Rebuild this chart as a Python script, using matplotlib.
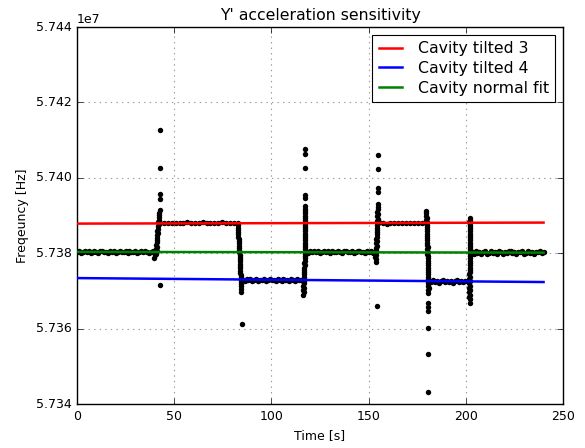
import numpy as np
import matplotlib
matplotlib.use("Agg")
import matplotlib.pyplot as plt

# Frequencies are stored as kHz offsets from this reference frequency
F0_HZ = 57_380_000.0

# Fitted cavity frequencies at the start and end of the run
FIT_T = [0.0, 240.0]
FIT_TILTED_3 = [7.85, 8.12]
FIT_TILTED_4 = [-6.60, -7.65]
FIT_NORMAL = [0.35, 0.15]

# Steady segments: (start time, end time, kHz samples)
GREEN_A = [0.3, 0.6, 0.1, 0.4, 0.7, 0.2, 0.5, 0.0, 0.4, 0.6,
           0.3, 0.1, 0.5, 0.7, 0.2, 0.4, 0.0, 0.6, 0.3, 0.5,
           0.1, 0.4, 0.7, 0.2, 0.3, 0.6, 0.0, 0.5, 0.2, 0.4,
           0.6, 0.1, 0.3, 0.7, 0.2, 0.5, 0.4, 0.0, 0.3, 0.6,
           0.2]
RED_B = [8.0, 7.9, 8.0, 7.9, 8.1, 7.9, 8.0, 8.3, 8.0, 7.9,
         8.0, 8.2, 7.9, 8.0, 8.0, 7.9, 8.3, 8.0, 7.9, 8.1, 8.0]
BLUE_C = [-7.0, -7.3, -6.9, -7.2, -6.8, -7.4, -7.1, -6.9, -7.3, -7.0,
          -7.2, -6.8, -7.4, -7.1, -6.9, -7.2, -7.0, -7.4, -6.8, -7.1,
          -7.3, -6.9, -7.2, -7.0, -7.4, -6.8, -7.1, -7.3, -6.9, -7.2,
          -7.0, -7.3]
GREEN_D = [0.4, 0.1, 0.6, 0.3, 0.7, 0.2, 0.5, 0.0, 0.4, 0.6,
           0.3, 0.7, 0.1, 0.5, 0.4, 0.2, 0.6, 0.3, 0.0, 0.5,
           0.7, 0.2, 0.4, 0.6, 0.1, 0.3, 0.5, 0.7, 0.2, 0.4,
           0.0, 0.6, 0.3, 0.5, 0.1, 0.4]
RED_E = [8.2, 8.0, 7.8, 8.1, 7.9, 8.0, 8.0, 7.9, 8.1, 8.0,
         7.9, 8.0, 8.1]
BLUE_F = [-7.4, -7.7, -7.2, -7.6, -7.3, -7.8, -7.5, -7.2, -7.7, -7.4,
          -7.6, -7.3, -7.8, -7.5, -7.2, -7.6, -7.4, -7.7, -7.3, -7.5,
          -7.6]
GREEN_G = [0.2, -0.2, 0.5, 0.0, 0.4, -0.1, 0.3, 0.6, -0.2, 0.1,
           0.5, 0.0, 0.3, -0.1, 0.6, 0.2, -0.2, 0.4, 0.1, 0.5,
           0.7, 0.0, 0.3, -0.1, 0.4, 0.2, 0.6, -0.2, 0.1, 0.5,
           0.0, 0.3, -0.1, 0.4, 0.2, 0.6, 0.0, 0.3]

SEGMENTS = [
    (0.0, 40.0, GREEN_A),
    (42.8, 82.6, RED_B),
    (85.2, 116.2, BLUE_C),
    (118.0, 153.4, GREEN_D),
    (155.2, 179.4, RED_E),
    (181.2, 201.4, BLUE_F),
    (203.0, 240.0, GREEN_G),
]

# Switching events: (time [s], kHz) samples
SWITCH_1 = [(39.8, -1.2), (40.2, -0.6), (40.6, -0.1), (40.9, 0.5), (40.5, 1.1),
            (41.0, 1.7), (40.8, 2.3), (41.2, 2.9), (41.0, 3.5), (41.4, 4.1),
            (41.2, 4.7), (41.6, 5.3), (41.4, 5.9), (41.8, 6.5), (41.6, 7.1),
            (42.0, 7.7), (41.8, 8.3), (42.2, 8.9), (42.0, 9.5), (42.4, 10.1),
            (42.2, 10.7), (42.6, 11.4), (42.7, 14.4), (42.7, 15.7),
            (42.7, 22.6), (42.7, 32.7), (42.8, -8.4)]
SWITCH_2 = [(82.6, 7.4), (82.7, 6.8), (82.8, 6.2), (82.9, 5.6), (83.0, 5.0),
            (83.0, 4.4), (83.1, 3.8), (83.2, 3.2), (83.2, 2.6), (83.3, 2.0),
            (83.4, 1.4), (83.4, 0.8), (83.5, 0.2), (83.6, -0.4), (83.6, -1.0),
            (83.7, -1.6), (83.8, -2.2), (83.8, -2.8), (83.9, -3.4), (84.0, -4.0),
            (84.0, -4.6), (84.1, -5.2), (84.2, -5.8), (84.2, -6.4), (84.3, -7.0),
            (84.4, -7.6), (84.4, -8.2), (84.5, -8.8), (84.6, -9.6), (84.5, -10.4),
            (84.9, -18.8)]
SWITCH_3 = [(116.4, -11.0), (116.6, -10.4), (116.4, -9.8), (116.7, -9.2),
            (116.5, -8.6), (116.8, -8.0), (116.6, -7.4), (116.9, -6.8),
            (116.7, -6.2), (116.9, -5.6), (116.8, -5.0), (117.0, -4.4),
            (116.9, -3.8), (117.1, -3.2), (117.0, -2.6), (117.2, -2.0),
            (117.1, -1.4), (117.2, -0.8), (117.1, -0.2), (117.3, 0.4),
            (117.2, 1.0), (117.3, 1.6), (117.2, 2.2), (117.3, 2.8),
            (117.2, 3.4), (117.3, 4.0), (117.2, 4.6), (117.3, 5.2),
            (117.2, 5.8), (117.3, 6.4), (117.2, 7.0), (117.3, 7.6),
            (117.2, 8.2), (117.3, 8.8), (117.2, 9.4), (117.3, 10.0),
            (117.2, 10.6), (117.3, 11.2), (117.2, 11.8), (117.3, 12.5),
            (117.2, 14.7), (117.2, 15.5), (117.3, 22.6), (117.3, 26.3),
            (117.3, 27.6)]
SWITCH_4 = [(153.6, -2.3), (153.8, -1.6), (153.5, -1.0), (153.9, -0.4),
            (153.7, 0.2), (154.0, 0.8), (153.8, 1.4), (154.1, 2.0),
            (153.9, 2.6), (154.2, 3.2), (154.0, 3.8), (154.3, 4.4),
            (154.1, 5.0), (154.4, 5.6), (154.2, 6.2), (154.5, 6.8),
            (154.3, 7.4), (154.6, 8.0), (154.4, 8.6), (154.6, 9.2),
            (154.5, 9.8), (154.7, 10.4), (154.5, 11.0), (154.7, 11.6),
            (154.6, 12.3), (154.7, 13.1), (154.7, 16.3), (154.7, 17.3),
            (154.6, 22.4), (154.6, 26.1), (154.4, -13.9)]
SWITCH_5 = [(179.6, 11.2), (179.7, 10.6), (179.6, 10.0), (179.8, 9.4),
            (179.7, 8.8), (179.8, 8.2), (179.9, 7.6), (179.8, 7.0),
            (180.0, 6.4), (179.9, 5.8), (180.1, 5.2), (180.0, 4.6),
            (180.2, 4.0), (180.1, 3.4), (180.2, 2.8), (180.1, 2.2),
            (180.3, 1.6), (180.2, 1.0), (180.3, 0.4), (180.2, -0.2),
            (180.4, -0.8), (180.3, -1.4), (180.4, -2.0), (180.3, -2.6),
            (180.5, -3.2), (180.4, -3.8), (180.5, -4.4), (180.4, -5.0),
            (180.6, -5.6), (180.5, -6.2), (180.7, -6.8), (180.5, -7.4),
            (180.8, -8.0), (180.6, -8.6), (180.9, -9.2), (180.7, -9.8),
            (180.8, -10.5), (180.5, -13.2), (180.5, -14.2), (180.5, -15.3),
            (180.5, -19.8), (180.5, -26.7), (180.5, -36.8)]
SWITCH_6 = [(202.0, 9.4), (202.1, 8.8), (201.9, 8.2), (202.1, 7.6),
            (202.0, 7.0), (202.2, 6.4), (202.0, 5.8), (202.2, 5.2),
            (202.1, 4.6), (202.3, 4.0), (202.1, 3.4), (202.3, 2.8),
            (202.2, 2.2), (202.4, 1.6), (202.2, 1.0), (202.4, 0.4),
            (202.3, -0.2), (202.1, -0.8), (202.3, -1.4), (202.1, -2.0),
            (202.3, -2.6), (202.0, -3.2), (202.2, -3.8), (202.0, -4.4),
            (202.2, -5.0), (201.9, -5.6), (202.1, -6.2), (201.9, -6.8),
            (202.1, -7.4), (201.8, -8.0), (202.0, -8.6), (201.9, -9.2),
            (202.1, -9.8), (201.9, -10.4), (202.1, -11.0), (201.9, -11.6),
            (202.0, -12.2), (202.0, -13.2)]
SWITCHES = [SWITCH_1, SWITCH_2, SWITCH_3, SWITCH_4, SWITCH_5, SWITCH_6]

X_TICKS = [0, 50, 100, 150, 200, 250]
Y_TICKS = [5.734e7, 5.736e7, 5.738e7, 5.740e7, 5.742e7, 5.744e7]


def to_hz(khz):
    return F0_HZ + 1e3 * np.asarray(khz, dtype=float)


# Assemble the measured time series
times, freqs = [], []
for t0, t1, vals in SEGMENTS:
    times.append(np.linspace(t0, t1, len(vals)))
    freqs.append(to_hz(vals))
for sw in SWITCHES:
    arr = np.array(sw)
    times.append(arr[:, 0])
    freqs.append(to_hz(arr[:, 1]))
time_s = np.concatenate(times)
freq_hz = np.concatenate(freqs)

plt.style.use("classic")
plt.rcParams.update({
    "figure.facecolor": "white",
    "savefig.facecolor": "white",
    "font.family": "DejaVu Sans",
})

fig = plt.figure(figsize=(5.85, 4.48), dpi=100)
ax = fig.add_axes([77 / 585, 1 - 404 / 448, (563 - 77) / 585, (404 - 27) / 448])

ax.plot(time_s, freq_hz, "o", color="black", markersize=3.9,
        markeredgewidth=0, zorder=2)

ax.plot(FIT_T, to_hz(FIT_TILTED_3), color="red", lw=1.8, label="Cavity tilted 3", zorder=3)
ax.plot(FIT_T, to_hz(FIT_TILTED_4), color="blue", lw=1.8, label="Cavity tilted 4", zorder=3)
ax.plot(FIT_T, to_hz(FIT_NORMAL), color="green", lw=1.8, label="Cavity normal fit", zorder=3)

ax.set_xlim(0, 250)
ax.set_ylim(5.734e7, 5.744e7)
ax.set_xticks(X_TICKS)
ax.set_yticks(Y_TICKS)
ax.ticklabel_format(axis="y", style="sci", scilimits=(0, 0), useOffset=False)
ax.tick_params(labelsize=9)
ax.yaxis.get_offset_text().set_fontsize(9)

ax.grid(True, color="0.6", linestyle=":", linewidth=0.8)
ax.set_axisbelow(True)

ax.set_title("Y' acceleration sensitivity", fontsize=11.3)
ax.set_xlabel("Time [s]", fontsize=9)
ax.set_ylabel("Freqeuncy [Hz]", fontsize=9)

leg = ax.legend(loc="upper right", fontsize=11.3, handlelength=1.5,
                handletextpad=1.0, borderaxespad=0.5, labelspacing=0.3,
                numpoints=1)
leg.get_frame().set_linewidth(0.8)

fig.savefig("out.png", dpi=100)
